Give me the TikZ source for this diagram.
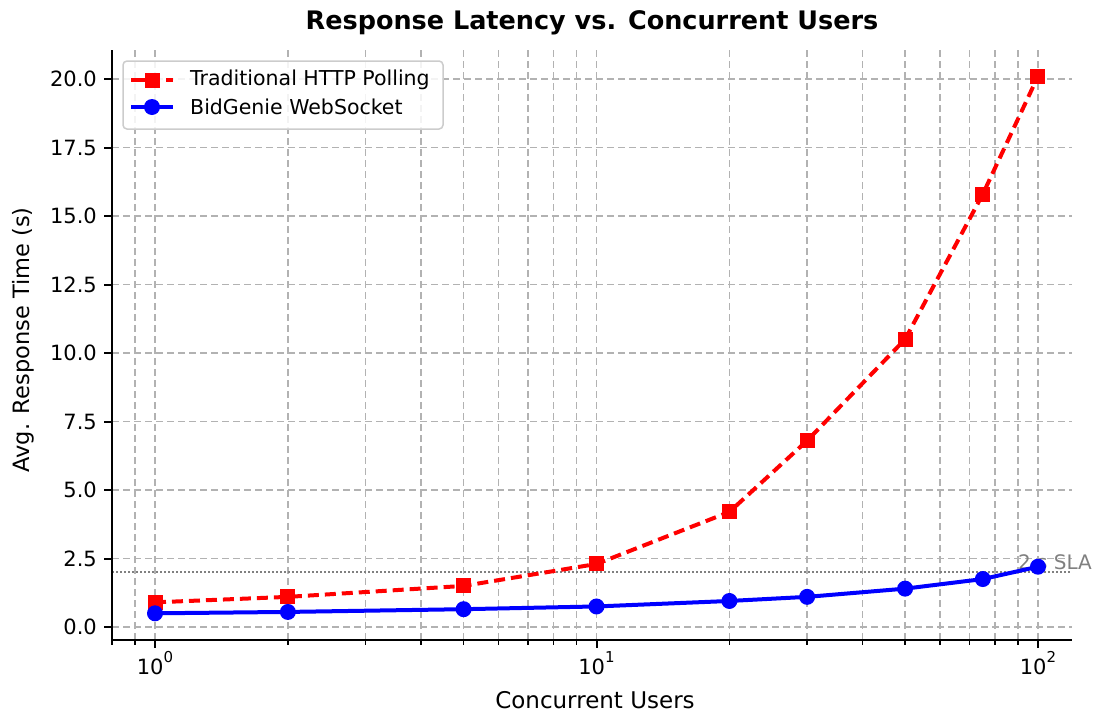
\documentclass[tikz,border=0pt]{standalone}
\usepackage{fontspec}
\setmainfont{DejaVu Sans}
\begin{document}
\begin{tikzpicture}[x=1pt,y=-1pt,
  gridline/.style={draw=black!30, line width=1.5pt, dash pattern=on 7pt off 4pt},
  spine/.style={draw=black, line width=2pt},
  majtick/.style={draw=black, line width=2pt},
  mintick/.style={draw=black, line width=1.5pt},
  polling/.style={draw=red, line width=4pt, dash pattern=on 11pt off 6pt},
  socket/.style={draw=blue, line width=4pt},
  sqmark/.style={fill=red, draw=none, minimum size=15pt, inner sep=0pt, rectangle},
  cmark/.style={fill=blue, draw=none, minimum size=16pt, inner sep=0pt, circle},
  ticklab/.style={font=\fontsize{21}{25}\selectfont, inner sep=0pt},
  legtext/.style={font=\fontsize{20.5}{24}\selectfont, anchor=west, inner sep=0pt}
]
\useasboundingbox (0,0) rectangle (1093,718);
% grid
\foreach \v in {0.8,0.9,1,2,3,4,5,6,7,8,9,10,20,30,40,50,60,70,80,90,100}{
  \pgfmathsetmacro{\xp}{155+441.5*log10(\v)}
  \draw[gridline] (\xp,50) -- (\xp,640);
  \draw[mintick] (\xp,640) -- (\xp,645);
}
\foreach \v/\lab in {0/0.0,2.5/2.5,5/5.0,7.5/7.5,10/10.0,12.5/12.5,15/15.0,17.5/17.5,20/20.0}{
  \pgfmathsetmacro{\yp}{627-27.4*\v}
  \draw[gridline] (112,\yp) -- (1072,\yp);
  \draw[majtick] (112,\yp) -- (104,\yp);
  \node[ticklab, anchor=east] at (97,\yp) {\lab};
}
% major x ticks
\foreach \d in {0,1,2}{
  \pgfmathsetmacro{\xp}{155+441.5*\d}
  \draw[majtick] (\xp,640) -- (\xp,648);
  \node[ticklab, anchor=base] at (\xp,674) {10\raisebox{0.55em}{\fontsize{15}{15}\selectfont\d}};
}
% SLA line
\coordinate (slaL) at (112,572);
\coordinate (slaR) at (1072,572);
\draw[draw=black!50, line width=1.5pt, dash pattern=on 1.5pt off 2.5pt] (slaL) -- (slaR);
\node[anchor=west, inner sep=0pt, text=black!50, font=\fontsize{20}{24}\selectfont] (sla) at ({155+441.5*log10(90)},562) {2 s SLA};
% data
\foreach \v/\w [count=\i] in {1/0.9,2/1.1,5/1.5,10/2.3,20/4.2,30/6.8,50/10.5,75/15.8,100/20.1}{
  \coordinate (p\i) at ({155+441.5*log10(\v)},{627-27.4*\w});
}
\foreach \v/\w [count=\i] in {1/0.5,2/0.55,5/0.65,10/0.75,20/0.95,30/1.1,50/1.4,75/1.75,100/2.2}{
  \coordinate (s\i) at ({155+441.5*log10(\v)},{627-27.4*\w});
}
\draw[polling] (p1) -- (p2) -- (p3) -- (p4) -- (p5) -- (p6) -- (p7) -- (p8) -- (p9);
\foreach \i in {1,...,9}{\node[sqmark] (pm\i) at (p\i) {};}
\draw[socket] (s1) -- (s2) -- (s3) -- (s4) -- (s5) -- (s6) -- (s7) -- (s8) -- (s9);
\foreach \i in {1,...,9}{\node[cmark] (sm\i) at (s\i) {};}
% spines
\draw[spine] (112,50) -- (112,640) -- (1072,640);
% legend
\draw[draw=black!20, line width=1.5pt, fill=white, fill opacity=0.85, rounded corners=4pt] (123,61) rectangle (443,129);
\coordinate (l1a) at (131,80); \coordinate (l1b) at (173,80);
\coordinate (l2a) at (131,107); \coordinate (l2b) at (173,107);
\draw[polling, dash pattern=on 29pt off 6pt] (l1a) -- (l1b);
\node[sqmark] (lm1) at (152,80) {};
\draw[socket] (l2a) -- (l2b);
\node[cmark] (lm2) at (152,107) {};
\node[legtext] (lt1) at (190,80) {Traditional HTTP Polling};
\node[legtext] (lt2) at (190,107) {BidGenie WebSocket};
% titles
\node[font=\bfseries\fontsize{25.5}{30}\selectfont, inner sep=0pt] (title) at (592,23) {Response Latency vs. Concurrent Users};
\node[font=\fontsize{23}{27}\selectfont, inner sep=0pt] (xlab) at (595,700) {Concurrent Users};
\node[font=\fontsize{22.5}{27}\selectfont, inner sep=0pt, rotate=90] (ylab) at (23,340) {Avg. Response Time (s)};
\end{tikzpicture}
\end{document}
